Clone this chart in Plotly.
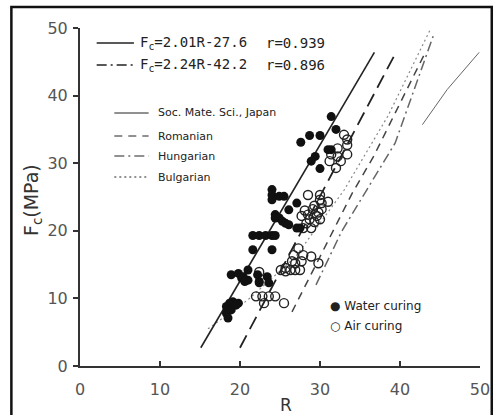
import plotly.graph_objects as go

# ---- data ----
water_R = [31.4, 32.0, 27.6, 28.7, 30.0, 31.0, 31.4, 29.4, 28.9, 30.0,
           24.0, 24.0, 24.0, 24.9, 25.5, 27.1, 26.1,
           24.4, 24.4, 24.9, 25.3, 25.7, 26.1, 27.1, 27.5,
           21.6, 22.4, 23.2, 24.0, 24.4, 21.6, 24.0,
           18.9, 19.8, 20.2, 20.6, 21.0, 21.0, 22.2, 22.4, 23.4, 20.4, 22.4, 23.6,
           18.3, 18.7, 19.1, 19.8, 18.3, 18.5, 18.9, 19.5]
water_F = [36.9, 35.0, 33.1, 34.1, 34.1, 32.0, 32.0, 31.0, 30.3, 29.2,
           26.1, 25.3, 24.6, 25.1, 25.1, 24.1, 23.1,
           22.4, 21.9, 21.9, 21.4, 21.1, 20.9, 20.4, 20.4,
           19.3, 19.3, 19.3, 19.3, 19.3, 17.2, 17.2,
           13.5, 13.7, 13.0, 12.5, 14.2, 12.7, 13.5, 12.5, 13.2, 13.2, 12.3, 12.3,
           8.8, 9.3, 9.5, 9.3, 7.8, 7.1, 8.3, 9.0]

air_R = [33.0, 33.4, 33.4, 32.2, 31.4, 32.2, 32.6, 33.4, 32.0, 31.2,
         28.5, 30.0, 30.0, 30.2, 31.0, 29.3, 30.2, 29.8, 29.1, 28.1,
         27.7, 28.5, 29.6, 30.0, 28.7, 28.3, 29.3, 28.9, 27.9,
         27.3, 26.7, 27.9, 26.5, 27.7, 28.9, 29.8, 25.7, 26.3, 26.9,
         27.5, 25.7, 25.1, 26.9,
         22.0, 22.8, 23.6, 24.4, 23.0, 25.5, 22.4]
air_F = [34.2, 33.5, 32.7, 32.2, 31.3, 31.0, 30.3, 31.3, 29.3, 30.3,
         25.3, 25.3, 24.6, 24.1, 24.3, 23.7, 23.2, 22.7, 23.2, 23.0,
         22.2, 22.4, 22.2, 21.7, 21.7, 21.1, 21.3, 20.4, 20.4,
         17.4, 16.4, 16.4, 15.5, 15.5, 16.2, 15.2, 14.5, 14.2, 14.2,
         14.2, 14.0, 14.2, 15.2,
         10.3, 10.3, 10.3, 10.3, 9.3, 9.3, 13.9]

# regression lines (end points)
fit1_R = [15.1, 36.8]
fit1_F = [2.7, 46.4]
fit2_R = [20.0, 39.5]
fit2_F = [2.7, 46.4]

# reference lines
japan_R = [42.8, 45.9, 49.9]
japan_F = [35.7, 40.9, 46.4]
roman_R = [26.5, 34.0, 36.7, 43.0]
roman_F = [8.0, 25.5, 31.0, 46.0]
hung_R = [29.5, 32.7, 39.4, 44.3]
hung_F = [12.0, 19.9, 33.0, 49.3]
bulg_R = [16.0, 21.0, 26.9, 33.0, 38.5, 43.8]
bulg_F = [5.5, 9.8, 16.1, 26.0, 37.0, 49.8]

eq_texts = ["F<sub>c</sub>=2.01R-27.6", "F<sub>c</sub>=2.24R-42.2"]
r_texts = ["r=0.939", "r=0.896"]
ref_names = ["Soc. Mate. Sci., Japan", "Romanian", "Hungarian", "Bulgarian"]
cure_names = ["Water curing", "Air curing"]
x_ticks = [0, 10, 20, 30, 40, 50]
y_ticks = [0, 10, 20, 30, 40, 50]

INK = "#222222"
GREY = "#666666"
FONT = "DejaVu Sans"

fig = go.Figure()

def add_line(xs, ys, dash, width, color):
    fig.add_trace(go.Scatter(x=xs, y=ys, mode="lines",
                             line=dict(color=color, width=width, dash=dash),
                             hoverinfo="skip", showlegend=False))

add_line(bulg_R, bulg_F, "2px,3px", 1.2, "#888888")
add_line(hung_R, hung_F, "10px,4px,2px,4px", 1.5, GREY)
add_line(roman_R, roman_F, "8px,6px", 1.5, "#444444")
add_line(japan_R, japan_F, "solid", 1.0, GREY)
add_line(fit1_R, fit1_F, "solid", 1.6, INK)
add_line(fit2_R, fit2_F, "14px,7px", 1.8, INK)

fig.add_trace(go.Scatter(x=air_R, y=air_F, mode="markers",
                         marker=dict(symbol="circle-open", size=9, color=INK,
                                     line=dict(width=1.4, color=INK)),
                         showlegend=False))
fig.add_trace(go.Scatter(x=water_R, y=water_F, mode="markers",
                         marker=dict(symbol="circle", size=9, color="#111111"),
                         showlegend=False))

W, H = 502, 415
L, R_, T, B = 80, 14, 28, 49
pw, ph = W - L - R_, H - T - B

def px(x):
    return (x - L) / pw

def py(y):
    return (H - B - y) / ph

shapes = []
annotations = []

# outer frame of the scanned figure
shapes.append(dict(type="rect", xref="paper", yref="paper",
                   x0=px(10), x1=px(500), y0=py(420), y1=py(7),
                   line=dict(color="#111111", width=2.5)))

# equation legend
eq_rows = [43, 65]
eq_dash = ["solid", "10px,4px,2px,4px"]
for i in range(2):
    yy = py(eq_rows[i])
    shapes.append(dict(type="line", xref="paper", yref="paper",
                       x0=px(97), x1=px(135), y0=yy, y1=yy,
                       line=dict(color=INK, width=1.5, dash=eq_dash[i])))
    annotations.append(dict(xref="paper", yref="paper", x=px(139), y=yy,
                            text=eq_texts[i], showarrow=False, xanchor="left",
                            yanchor="middle",
                            font=dict(family="DejaVu Sans Mono", size=14, color=INK)))
    annotations.append(dict(xref="paper", yref="paper", x=px(268), y=yy,
                            text=r_texts[i], showarrow=False, xanchor="left",
                            yanchor="middle",
                            font=dict(family="DejaVu Sans Mono", size=14, color=INK)))

# reference-line legend
ref_rows = [113, 136, 156, 177]
ref_dash = ["solid", "8px,6px", "10px,4px,2px,4px", "2px,3px"]
for i in range(4):
    yy = py(ref_rows[i])
    shapes.append(dict(type="line", xref="paper", yref="paper",
                       x0=px(115), x1=px(150), y0=yy, y1=yy,
                       line=dict(color=INK, width=1.0, dash=ref_dash[i])))
    annotations.append(dict(xref="paper", yref="paper", x=px(158), y=yy,
                            text=ref_names[i], showarrow=False, xanchor="left",
                            yanchor="middle",
                            font=dict(family=FONT, size=11, color=INK)))

# curing legend
cure_rows = [306, 326]
cure_sym = ["●", "○"]
for i in range(2):
    yy = py(cure_rows[i])
    annotations.append(dict(xref="paper", yref="paper", x=px(333), y=yy,
                            text=cure_sym[i] + " " + cure_names[i], showarrow=False,
                            xanchor="left", yanchor="middle",
                            font=dict(family=FONT, size=12, color=INK)))

# axis titles
annotations.append(dict(xref="paper", yref="paper", x=px(290), y=py(405),
                        text="R", showarrow=False, xanchor="center", yanchor="middle",
                        font=dict(family=FONT, size=17, color="#333333")))
annotations.append(dict(xref="paper", yref="paper", x=px(32), y=py(200),
                        text="F<sub>c</sub>(MPa)", showarrow=False, textangle=-90,
                        xanchor="center", yanchor="middle",
                        font=dict(family=FONT, size=19, color="#333333")))

fig.update_layout(
    width=W, height=H,
    margin=dict(l=L, r=R_, t=T, b=B),
    paper_bgcolor="white", plot_bgcolor="white",
    showlegend=False,
    shapes=shapes, annotations=annotations,
    xaxis=dict(range=[0, 50], tickvals=x_ticks, ticks="inside", ticklen=5,
               tickwidth=1.5, tickcolor="#333333",
               showline=True, linecolor="#333333", linewidth=2,
               showgrid=False, zeroline=False, ticklabelstandoff=8,
               tickfont=dict(family=FONT, size=16, color="#555555")),
    yaxis=dict(range=[0, 50], tickvals=y_ticks, ticks="outside", ticklen=5,
               tickwidth=1.5, tickcolor="#333333",
               showline=True, linecolor="#333333", linewidth=2,
               showgrid=False, zeroline=False, ticklabelstandoff=2,
               tickfont=dict(family=FONT, size=16, color="#555555")),
)

fig.write_html("out.html")
